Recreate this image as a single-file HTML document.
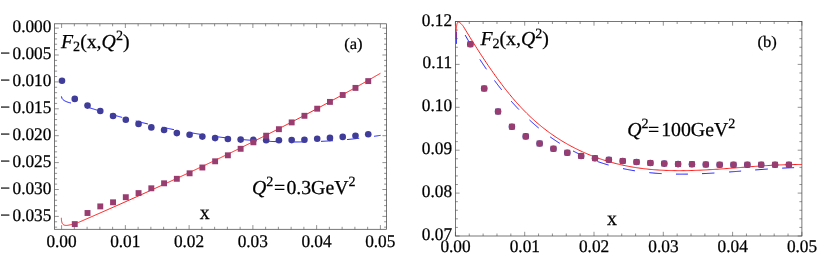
<!DOCTYPE html>
<html><head><meta charset="utf-8"><title>F2 plots</title>
<style>html,body{margin:0;padding:0;background:#fff;}body{width:817px;height:269px;overflow:hidden;font-family:"Liberation Serif",serif;}</style></head>
<body>
<svg width="817" height="269" viewBox="0 0 817 269" style="display:block">
<rect width="817" height="269" fill="#fff"/>
<clipPath id="c1"><rect x="54.6" y="23.8" width="332.0" height="205.5"/></clipPath>
<g clip-path="url(#c1)">
<path d="M61.40,96.40 L62.14,98.64 L62.88,99.52 L63.62,100.14 L64.35,100.63 L65.09,101.04 L65.83,101.40 L66.57,101.72 L67.31,102.00 L68.05,102.25 L68.78,102.47 L69.52,102.67 L70.26,102.84 L71.00,103.00M85.30,106.42 L86.22,106.72 L87.15,107.02 L88.07,107.31 L88.99,107.61 L89.92,107.90 L90.84,108.19 L91.76,108.48 L92.68,108.77 L93.61,109.06 L94.53,109.35 L95.45,109.63 L96.38,109.92 L97.30,110.20M110.20,114.05 L111.12,114.32 L112.05,114.58 L112.97,114.85 L113.89,115.11 L114.82,115.37 L115.74,115.63 L116.66,115.89 L117.58,116.15 L118.51,116.41 L119.43,116.67 L120.35,116.92 L121.28,117.17 L122.20,117.43M135.80,121.01 L136.73,121.25 L137.66,121.48 L138.59,121.71 L139.52,121.95 L140.45,122.18 L141.38,122.41 L142.32,122.63 L143.25,122.86 L144.18,123.09 L145.11,123.31 L146.04,123.53 L146.97,123.76 L147.90,123.98M162.20,127.21 L163.10,127.40 L164.00,127.59 L164.90,127.78 L165.80,127.97 L166.70,128.16 L167.60,128.35 L168.50,128.54 L169.40,128.72 L170.30,128.91 L171.20,129.09 L172.10,129.27 L173.00,129.45 L173.90,129.63M188.30,132.32 L189.22,132.49 L190.15,132.65 L191.07,132.81 L191.99,132.96 L192.92,133.12 L193.84,133.28 L194.76,133.43 L195.68,133.58 L196.61,133.73 L197.53,133.88 L198.45,134.03 L199.38,134.18 L200.30,134.33M214.70,136.43 L215.63,136.56 L216.56,136.68 L217.49,136.80 L218.42,136.92 L219.35,137.04 L220.28,137.16 L221.22,137.28 L222.15,137.39 L223.08,137.51 L224.01,137.62 L224.94,137.73 L225.87,137.84 L226.80,137.95M241.00,139.43 L241.94,139.51 L242.88,139.60 L243.82,139.68 L244.75,139.76 L245.69,139.84 L246.63,139.92 L247.57,140.00 L248.51,140.07 L249.45,140.15 L250.38,140.22 L251.32,140.29 L252.26,140.36 L253.20,140.43M267.50,141.29 L268.44,141.33 L269.38,141.38 L270.32,141.42 L271.25,141.46 L272.19,141.50 L273.13,141.53 L274.07,141.57 L275.01,141.60 L275.95,141.63 L276.88,141.67 L277.82,141.69 L278.76,141.72 L279.70,141.75M294.10,141.96 L295.04,141.96 L295.98,141.96 L296.92,141.96 L297.85,141.95 L298.79,141.95 L299.73,141.94 L300.67,141.93 L301.61,141.92 L302.55,141.91 L303.48,141.90 L304.42,141.89 L305.36,141.87 L306.30,141.85M321.00,141.37 L321.92,141.33 L322.85,141.28 L323.77,141.24 L324.69,141.19 L325.62,141.14 L326.54,141.09 L327.46,141.04 L328.38,140.98 L329.31,140.93 L330.23,140.87 L331.15,140.81 L332.08,140.75 L333.00,140.69M347.10,139.55 L348.03,139.46 L348.96,139.37 L349.89,139.27 L350.82,139.18 L351.75,139.09 L352.68,138.99 L353.62,138.89 L354.55,138.79 L355.48,138.69 L356.41,138.59 L357.34,138.48 L358.27,138.38 L359.20,138.27M374.00,136.33 L374.51,136.26 L375.02,136.18 L375.52,136.11 L376.03,136.03 L376.54,135.96 L377.05,135.88 L377.55,135.80 L378.06,135.72 L378.57,135.65 L379.08,135.57 L379.58,135.49 L380.09,135.41 L380.60,135.35" fill="none" stroke="#0000ff" stroke-width="0.9"/>
<path d="M61.40,217.80 L61.39,218.11 L61.39,218.46 L61.39,218.83 L61.41,219.23 L61.43,219.65 L61.46,220.08 L61.51,220.52 L61.57,220.97 L61.65,221.41 L61.75,221.86 L61.87,222.29 L62.01,222.72 L62.17,223.12 L62.37,223.50 L62.58,223.86 L62.83,224.18 L63.11,224.47 L63.43,224.72 L63.77,224.92 L64.15,225.08 L64.54,225.21 L64.95,225.30 L65.38,225.36 L65.80,225.39 L66.23,225.40 L66.64,225.40 L67.06,225.37 L67.47,225.33 L67.87,225.27 L68.28,225.21 L68.68,225.13 L69.08,225.05 L69.48,224.96 L69.88,224.87 L70.28,224.77 L70.68,224.68 L71.08,224.58 L71.48,224.49 L71.88,224.39 L72.29,224.30 L72.69,224.22 L73.09,224.13 L73.50,224.05 L73.90,223.96 L74.30,223.87 L74.70,223.78 L75.10,223.67 L75.49,223.56 L75.88,223.43 L76.27,223.30 L76.66,223.16 L77.04,223.02 L77.42,222.87 L77.81,222.71 L78.19,222.55 L78.57,222.39 L78.94,222.22 L79.32,222.06 L79.70,221.89 L80.71,221.45 L81.71,221.02 L82.72,220.58 L83.72,220.14 L84.73,219.70 L85.73,219.26 L86.74,218.83 L87.75,218.39 L88.75,217.95 L89.76,217.51 L90.76,217.07 L91.77,216.63 L92.77,216.19 L93.78,215.75 L94.79,215.31 L95.79,214.87 L96.80,214.43 L97.80,213.99 L98.81,213.55 L99.81,213.11 L100.82,212.66 L101.83,212.22 L102.83,211.78 L103.84,211.34 L104.84,210.89 L105.85,210.45 L106.85,210.01 L107.86,209.56 L108.86,209.12 L109.87,208.67 L110.88,208.23 L111.88,207.79 L112.89,207.34 L113.89,206.90 L114.90,206.45 L115.90,206.00 L116.91,205.56 L117.92,205.11 L118.92,204.66 L119.93,204.22 L120.93,203.77 L121.94,203.32 L122.94,202.87 L123.95,202.43 L124.96,201.98 L125.96,201.53 L126.97,201.08 L127.97,200.63 L128.98,200.18 L129.98,199.73 L130.99,199.28 L132.00,198.83 L133.00,198.38 L134.01,197.93 L135.01,197.47 L136.02,197.02 L137.02,196.57 L138.03,196.12 L139.04,195.66 L140.04,195.21 L141.05,194.76 L142.05,194.30 L143.06,193.85 L144.06,193.39 L145.07,192.94 L146.08,192.48 L147.08,192.03 L148.09,191.57 L149.09,191.12 L150.10,190.66 L151.10,190.20 L152.11,189.74 L153.12,189.29 L154.12,188.83 L155.13,188.37 L156.13,187.91 L157.14,187.45 L158.14,186.99 L159.15,186.53 L160.15,186.07 L161.16,185.61 L162.17,185.15 L163.17,184.69 L164.18,184.23 L165.18,183.76 L166.19,183.30 L167.19,182.84 L168.20,182.38 L169.21,181.91 L170.21,181.45 L171.22,180.98 L172.22,180.52 L173.23,180.05 L174.23,179.59 L175.24,179.12 L176.25,178.66 L177.25,178.19 L178.26,177.72 L179.26,177.25 L180.27,176.79 L181.27,176.32 L182.28,175.85 L183.29,175.38 L184.29,174.91 L185.30,174.44 L186.30,173.97 L187.31,173.50 L188.31,173.03 L189.32,172.56 L190.33,172.08 L191.33,171.61 L192.34,171.14 L193.34,170.67 L194.35,170.19 L195.35,169.72 L196.36,169.24 L197.37,168.77 L198.37,168.29 L199.38,167.82 L200.38,167.34 L201.39,166.86 L202.39,166.39 L203.40,165.91 L204.41,165.43 L205.41,164.95 L206.42,164.47 L207.42,163.99 L208.43,163.51 L209.43,163.03 L210.44,162.55 L211.44,162.07 L212.45,161.59 L213.46,161.11 L214.46,160.62 L215.47,160.14 L216.47,159.66 L217.48,159.17 L218.48,158.69 L219.49,158.20 L220.50,157.72 L221.50,157.23 L222.51,156.75 L223.51,156.26 L224.52,155.77 L225.52,155.28 L226.53,154.80 L227.54,154.31 L228.54,153.82 L229.55,153.33 L230.55,152.84 L231.56,152.35 L232.56,151.86 L233.57,151.36 L234.58,150.87 L235.58,150.38 L236.59,149.89 L237.59,149.39 L238.60,148.90 L239.60,148.40 L240.61,147.91 L241.62,147.41 L242.62,146.92 L243.63,146.42 L244.63,145.92 L245.64,145.42 L246.64,144.92 L247.65,144.43 L248.66,143.93 L249.66,143.43 L250.67,142.93 L251.67,142.43 L252.68,141.92 L253.68,141.42 L254.69,140.92 L255.69,140.42 L256.70,139.91 L257.71,139.41 L258.71,138.90 L259.72,138.40 L260.72,137.89 L261.73,137.39 L262.73,136.88 L263.74,136.37 L264.75,135.86 L265.75,135.35 L266.76,134.85 L267.76,134.34 L268.77,133.83 L269.77,133.32 L270.78,132.80 L271.79,132.29 L272.79,131.78 L273.80,131.27 L274.80,130.75 L275.81,130.24 L276.81,129.72 L277.82,129.21 L278.83,128.69 L279.83,128.18 L280.84,127.66 L281.84,127.14 L282.85,126.62 L283.85,126.10 L284.86,125.59 L285.87,125.07 L286.87,124.54 L287.88,124.02 L288.88,123.50 L289.89,122.98 L290.89,122.46 L291.90,121.93 L292.91,121.41 L293.91,120.88 L294.92,120.36 L295.92,119.83 L296.93,119.31 L297.93,118.78 L298.94,118.25 L299.95,117.72 L300.95,117.19 L301.96,116.66 L302.96,116.13 L303.97,115.60 L304.97,115.07 L305.98,114.54 L306.98,114.01 L307.99,113.47 L309.00,112.94 L310.00,112.40 L311.01,111.87 L312.01,111.33 L313.02,110.80 L314.02,110.26 L315.03,109.72 L316.04,109.18 L317.04,108.64 L318.05,108.10 L319.05,107.56 L320.06,107.02 L321.06,106.48 L322.07,105.94 L323.08,105.40 L324.08,104.85 L325.09,104.31 L326.09,103.76 L327.10,103.22 L328.10,102.67 L329.11,102.12 L330.12,101.58 L331.12,101.03 L332.13,100.48 L333.13,99.93 L334.14,99.38 L335.14,98.83 L336.15,98.28 L337.16,97.72 L338.16,97.17 L339.17,96.62 L340.17,96.06 L341.18,95.51 L342.18,94.95 L343.19,94.40 L344.20,93.84 L345.20,93.28 L346.21,92.72 L347.21,92.16 L348.22,91.60 L349.22,91.04 L350.23,90.48 L351.24,89.92 L352.24,89.36 L353.25,88.79 L354.25,88.23 L355.26,87.66 L356.26,87.10 L357.27,86.53 L358.27,85.96 L359.28,85.40 L360.29,84.83 L361.29,84.26 L362.30,83.69 L363.30,83.12 L364.31,82.55 L365.31,81.98 L366.32,81.40 L367.33,80.83 L368.33,80.25 L369.34,79.68 L370.34,79.10 L371.35,78.53 L372.35,77.95 L373.36,77.37 L374.37,76.79 L375.37,76.21 L376.38,75.63 L377.38,75.05 L378.39,74.47 L379.39,73.89 L380.40,73.30" fill="none" stroke="#ff0000" stroke-width="0.9"/>
<circle cx="62.00" cy="80.7" r="3.3" fill="#3f3d99"/>
<circle cx="74.76" cy="98.9" r="3.3" fill="#3f3d99"/>
<circle cx="87.52" cy="105.6" r="3.3" fill="#3f3d99"/>
<circle cx="100.28" cy="111.0" r="3.3" fill="#3f3d99"/>
<circle cx="113.04" cy="116.0" r="3.3" fill="#3f3d99"/>
<circle cx="125.80" cy="119.8" r="3.3" fill="#3f3d99"/>
<circle cx="138.56" cy="123.9" r="3.3" fill="#3f3d99"/>
<circle cx="151.32" cy="127.4" r="3.3" fill="#3f3d99"/>
<circle cx="164.08" cy="130.0" r="3.3" fill="#3f3d99"/>
<circle cx="176.84" cy="133.1" r="3.3" fill="#3f3d99"/>
<circle cx="189.60" cy="134.8" r="3.3" fill="#3f3d99"/>
<circle cx="202.36" cy="136.6" r="3.3" fill="#3f3d99"/>
<circle cx="215.12" cy="138.1" r="3.3" fill="#3f3d99"/>
<circle cx="227.88" cy="139.0" r="3.3" fill="#3f3d99"/>
<circle cx="240.64" cy="139.6" r="3.3" fill="#3f3d99"/>
<circle cx="253.40" cy="139.9" r="3.3" fill="#3f3d99"/>
<circle cx="266.16" cy="140.2" r="3.3" fill="#3f3d99"/>
<circle cx="278.92" cy="140.2" r="3.3" fill="#3f3d99"/>
<circle cx="291.68" cy="140.1" r="3.3" fill="#3f3d99"/>
<circle cx="304.44" cy="139.7" r="3.3" fill="#3f3d99"/>
<circle cx="317.20" cy="138.8" r="3.3" fill="#3f3d99"/>
<circle cx="329.96" cy="137.9" r="3.3" fill="#3f3d99"/>
<circle cx="342.72" cy="136.9" r="3.3" fill="#3f3d99"/>
<circle cx="355.48" cy="135.8" r="3.3" fill="#3f3d99"/>
<circle cx="368.24" cy="134.3" r="3.3" fill="#3f3d99"/>
<rect x="71.81" y="221.15" width="5.9" height="5.9" fill="#993d71"/>
<rect x="84.57" y="210.05" width="5.9" height="5.9" fill="#993d71"/>
<rect x="97.33" y="203.45" width="5.9" height="5.9" fill="#993d71"/>
<rect x="110.09" y="199.35" width="5.9" height="5.9" fill="#993d71"/>
<rect x="122.85" y="194.25" width="5.9" height="5.9" fill="#993d71"/>
<rect x="135.61" y="190.15" width="5.9" height="5.9" fill="#993d71"/>
<rect x="148.37" y="185.35" width="5.9" height="5.9" fill="#993d71"/>
<rect x="161.13" y="180.35" width="5.9" height="5.9" fill="#993d71"/>
<rect x="173.89" y="175.85" width="5.9" height="5.9" fill="#993d71"/>
<rect x="186.65" y="170.35" width="5.9" height="5.9" fill="#993d71"/>
<rect x="199.41" y="164.55" width="5.9" height="5.9" fill="#993d71"/>
<rect x="212.17" y="158.35" width="5.9" height="5.9" fill="#993d71"/>
<rect x="224.93" y="152.35" width="5.9" height="5.9" fill="#993d71"/>
<rect x="237.69" y="145.85" width="5.9" height="5.9" fill="#993d71"/>
<rect x="250.45" y="139.35" width="5.9" height="5.9" fill="#993d71"/>
<rect x="263.21" y="132.75" width="5.9" height="5.9" fill="#993d71"/>
<rect x="275.97" y="126.25" width="5.9" height="5.9" fill="#993d71"/>
<rect x="288.73" y="119.45" width="5.9" height="5.9" fill="#993d71"/>
<rect x="301.49" y="112.85" width="5.9" height="5.9" fill="#993d71"/>
<rect x="314.25" y="105.75" width="5.9" height="5.9" fill="#993d71"/>
<rect x="327.01" y="98.95" width="5.9" height="5.9" fill="#993d71"/>
<rect x="339.77" y="92.05" width="5.9" height="5.9" fill="#993d71"/>
<rect x="352.53" y="84.95" width="5.9" height="5.9" fill="#993d71"/>
<rect x="365.29" y="78.15" width="5.9" height="5.9" fill="#993d71"/>
</g>
<path d="M61.60,229.30v-4.20M61.60,23.80v4.20M74.35,229.30v-2.50M74.35,23.80v2.50M87.10,229.30v-2.50M87.10,23.80v2.50M99.86,229.30v-2.50M99.86,23.80v2.50M112.61,229.30v-2.50M112.61,23.80v2.50M125.36,229.30v-4.20M125.36,23.80v4.20M138.11,229.30v-2.50M138.11,23.80v2.50M150.86,229.30v-2.50M150.86,23.80v2.50M163.62,229.30v-2.50M163.62,23.80v2.50M176.37,229.30v-2.50M176.37,23.80v2.50M189.12,229.30v-4.20M189.12,23.80v4.20M201.87,229.30v-2.50M201.87,23.80v2.50M214.62,229.30v-2.50M214.62,23.80v2.50M227.38,229.30v-2.50M227.38,23.80v2.50M240.13,229.30v-2.50M240.13,23.80v2.50M252.88,229.30v-4.20M252.88,23.80v4.20M265.63,229.30v-2.50M265.63,23.80v2.50M278.38,229.30v-2.50M278.38,23.80v2.50M291.14,229.30v-2.50M291.14,23.80v2.50M303.89,229.30v-2.50M303.89,23.80v2.50M316.64,229.30v-4.20M316.64,23.80v4.20M329.39,229.30v-2.50M329.39,23.80v2.50M342.14,229.30v-2.50M342.14,23.80v2.50M354.90,229.30v-2.50M354.90,23.80v2.50M367.65,229.30v-2.50M367.65,23.80v2.50M380.40,229.30v-4.20M380.40,23.80v4.20M54.60,28.10h4.20M386.60,28.10h-4.20M54.60,33.48h2.50M386.60,33.48h-2.50M54.60,38.86h2.50M386.60,38.86h-2.50M54.60,44.24h2.50M386.60,44.24h-2.50M54.60,49.62h2.50M386.60,49.62h-2.50M54.60,55.00h4.20M386.60,55.00h-4.20M54.60,60.38h2.50M386.60,60.38h-2.50M54.60,65.76h2.50M386.60,65.76h-2.50M54.60,71.14h2.50M386.60,71.14h-2.50M54.60,76.52h2.50M386.60,76.52h-2.50M54.60,81.90h4.20M386.60,81.90h-4.20M54.60,87.28h2.50M386.60,87.28h-2.50M54.60,92.66h2.50M386.60,92.66h-2.50M54.60,98.04h2.50M386.60,98.04h-2.50M54.60,103.42h2.50M386.60,103.42h-2.50M54.60,108.80h4.20M386.60,108.80h-4.20M54.60,114.18h2.50M386.60,114.18h-2.50M54.60,119.56h2.50M386.60,119.56h-2.50M54.60,124.94h2.50M386.60,124.94h-2.50M54.60,130.32h2.50M386.60,130.32h-2.50M54.60,135.70h4.20M386.60,135.70h-4.20M54.60,141.08h2.50M386.60,141.08h-2.50M54.60,146.46h2.50M386.60,146.46h-2.50M54.60,151.84h2.50M386.60,151.84h-2.50M54.60,157.22h2.50M386.60,157.22h-2.50M54.60,162.60h4.20M386.60,162.60h-4.20M54.60,167.98h2.50M386.60,167.98h-2.50M54.60,173.36h2.50M386.60,173.36h-2.50M54.60,178.74h2.50M386.60,178.74h-2.50M54.60,184.12h2.50M386.60,184.12h-2.50M54.60,189.50h4.20M386.60,189.50h-4.20M54.60,194.88h2.50M386.60,194.88h-2.50M54.60,200.26h2.50M386.60,200.26h-2.50M54.60,205.64h2.50M386.60,205.64h-2.50M54.60,211.02h2.50M386.60,211.02h-2.50M54.60,216.40h4.20M386.60,216.40h-4.20M54.60,221.78h2.50M386.60,221.78h-2.50M54.60,227.16h2.50M386.60,227.16h-2.50" fill="none" stroke="#4a4a4a" stroke-width="0.6"/>
<rect x="54.6" y="23.8" width="332.00" height="205.50" fill="none" stroke="#4a4a4a" stroke-width="0.75"/>
<clipPath id="c2"><rect x="455.4" y="21.5" width="346.5" height="214.5"/></clipPath>
<g clip-path="url(#c2)">
<path d="M456.35,43.9 L456.3,31.7M465.20,35.14 L465.74,36.08 L466.28,37.02 L466.82,37.96 L467.35,38.89 L467.89,39.82 L468.43,40.75 L468.97,41.66 L469.51,42.58 L470.05,43.49 L470.58,44.40 L471.12,45.30 L471.66,46.20 L472.20,47.09M479.90,59.42 L480.41,60.20 L480.92,60.98 L481.42,61.75 L481.93,62.52 L482.44,63.29 L482.95,64.06 L483.45,64.82 L483.96,65.57 L484.47,66.33 L484.98,67.08 L485.48,67.82 L485.99,68.57 L486.50,69.31M494.50,80.49 L495.05,81.23 L495.61,81.98 L496.16,82.71 L496.72,83.44 L497.27,84.17 L497.82,84.89 L498.38,85.61 L498.93,86.32 L499.48,87.03 L500.04,87.74 L500.59,88.44 L501.15,89.14 L501.70,89.84M511.10,101.05 L511.70,101.73 L512.30,102.41 L512.90,103.08 L513.50,103.74 L514.10,104.40 L514.70,105.06 L515.30,105.71 L515.90,106.36 L516.50,107.01 L517.10,107.65 L517.70,108.28 L518.30,108.92 L518.90,109.55M529.50,119.97 L530.21,120.62 L530.92,121.27 L531.62,121.91 L532.33,122.55 L533.04,123.18 L533.75,123.80 L534.45,124.42 L535.16,125.04 L535.87,125.65 L536.58,126.25 L537.28,126.85 L537.99,127.44 L538.70,128.03M550.20,136.91 L550.93,137.43 L551.66,137.94 L552.39,138.45 L553.12,138.96 L553.85,139.46 L554.58,139.96 L555.32,140.45 L556.05,140.94 L556.78,141.42 L557.51,141.90 L558.24,142.37 L558.97,142.83 L559.70,143.30M573.00,150.94 L573.83,151.36 L574.66,151.79 L575.49,152.21 L576.32,152.62 L577.15,153.03 L577.98,153.43 L578.82,153.83 L579.65,154.22 L580.48,154.61 L581.31,155.00 L582.14,155.37 L582.97,155.75 L583.80,156.11M597.50,161.51 L598.35,161.80 L599.21,162.10 L600.06,162.38 L600.92,162.67 L601.77,162.94 L602.62,163.22 L603.48,163.49 L604.33,163.76 L605.18,164.02 L606.04,164.28 L606.89,164.53 L607.75,164.78 L608.60,165.03M623.00,168.60 L623.92,168.80 L624.83,168.99 L625.75,169.17 L626.66,169.35 L627.58,169.53 L628.49,169.70 L629.41,169.87 L630.32,170.04 L631.24,170.20 L632.15,170.35 L633.07,170.51 L633.98,170.66 L634.90,170.81M649.30,172.66 L650.25,172.75 L651.19,172.84 L652.14,172.92 L653.08,173.01 L654.03,173.09 L654.98,173.16 L655.92,173.24 L656.87,173.31 L657.82,173.38 L658.76,173.44 L659.71,173.50 L660.65,173.56 L661.60,173.61M676.00,174.11 L676.92,174.12 L677.83,174.13 L678.75,174.14 L679.66,174.14 L680.58,174.15 L681.49,174.15 L682.41,174.14 L683.32,174.14 L684.24,174.13 L685.15,174.13 L686.07,174.12 L686.98,174.11 L687.90,174.09M702.00,173.67 L702.95,173.62 L703.91,173.58 L704.86,173.53 L705.82,173.49 L706.77,173.44 L707.72,173.39 L708.68,173.34 L709.63,173.29 L710.58,173.23 L711.54,173.18 L712.49,173.12 L713.45,173.07 L714.40,173.01M729.10,172.00 L730.02,171.93 L730.95,171.86 L731.87,171.79 L732.79,171.72 L733.72,171.65 L734.64,171.58 L735.56,171.51 L736.48,171.43 L737.41,171.36 L738.33,171.29 L739.25,171.22 L740.18,171.14 L741.10,171.07M755.20,169.96 L756.17,169.88 L757.14,169.81 L758.11,169.74 L759.08,169.66 L760.05,169.59 L761.02,169.52 L761.98,169.45 L762.95,169.37 L763.92,169.30 L764.89,169.23 L765.86,169.17 L766.83,169.10 L767.80,169.03M782.20,168.15 L783.12,168.10 L784.03,168.06 L784.95,168.01 L785.86,167.97 L786.78,167.93 L787.69,167.89 L788.61,167.85 L789.52,167.81 L790.44,167.78 L791.35,167.74 L792.27,167.71 L793.18,167.68 L794.10,167.65" fill="none" stroke="#0000ff" stroke-width="0.9"/>
<path d="M455.90,38.40 L455.92,37.89 L455.94,37.40 L455.96,36.93 L455.97,36.47 L455.98,36.03 L455.99,35.61 L456.00,35.20 L456.01,34.80 L456.02,34.40 L456.02,34.02 L456.03,33.65 L456.04,33.29 L456.04,32.93 L456.05,32.57 L456.06,32.22 L456.07,31.87 L456.08,31.52 L456.10,31.17 L456.11,30.82 L456.13,30.47 L456.16,30.12 L456.18,29.75 L456.21,29.39 L456.25,29.01 L456.28,28.63 L456.33,28.24 L456.37,27.83 L456.43,27.42 L456.49,26.99 L456.55,26.54 L456.62,26.08 L456.70,25.61 L456.78,25.11 L456.88,24.61 L456.99,24.12 L457.11,23.65 L457.25,23.22 L457.42,22.83 L457.60,22.50 L457.82,22.24 L458.07,22.07 L458.35,22.00 L458.66,22.03 L459.00,22.15 L459.36,22.34 L459.73,22.58 L460.09,22.87 L460.45,23.17 L460.79,23.48 L461.12,23.78 L461.42,24.08 L461.71,24.37 L461.98,24.67 L462.24,24.96 L462.49,25.26 L462.73,25.56 L462.96,25.86 L463.18,26.17 L463.40,26.48 L464.53,28.36 L465.66,30.23 L466.80,32.10 L467.93,33.95 L469.06,35.80 L470.19,37.63 L471.32,39.46 L472.45,41.28 L473.59,43.09 L474.72,44.89 L475.85,46.68 L476.98,48.46 L478.11,50.22 L479.24,51.98 L480.38,53.73 L481.51,55.47 L482.64,57.19 L483.77,58.90 L484.90,60.61 L486.04,62.30 L487.17,63.97 L488.30,65.64 L489.43,67.29 L490.56,68.93 L491.69,70.56 L492.83,72.17 L493.96,73.77 L495.09,75.35 L496.22,76.93 L497.35,78.48 L498.48,80.03 L499.62,81.56 L500.75,83.07 L501.88,84.57 L503.01,86.05 L504.14,87.52 L505.28,88.97 L506.41,90.41 L507.54,91.83 L508.67,93.23 L509.80,94.62 L510.93,95.99 L512.07,97.34 L513.20,98.68 L514.33,100.00 L515.46,101.30 L516.59,102.58 L517.73,103.85 L518.86,105.09 L519.99,106.32 L521.12,107.53 L522.25,108.73 L523.38,109.90 L524.52,111.06 L525.65,112.20 L526.78,113.33 L527.91,114.44 L529.04,115.53 L530.17,116.61 L531.31,117.67 L532.44,118.71 L533.57,119.74 L534.70,120.75 L535.83,121.75 L536.97,122.73 L538.10,123.70 L539.23,124.65 L540.36,125.59 L541.49,126.52 L542.62,127.43 L543.76,128.32 L544.89,129.21 L546.02,130.07 L547.15,130.93 L548.28,131.77 L549.41,132.60 L550.55,133.41 L551.68,134.22 L552.81,135.01 L553.94,135.78 L555.07,136.55 L556.21,137.30 L557.34,138.05 L558.47,138.78 L559.60,139.49 L560.73,140.20 L561.86,140.90 L563.00,141.58 L564.13,142.26 L565.26,142.92 L566.39,143.57 L567.52,144.22 L568.65,144.85 L569.79,145.47 L570.92,146.09 L572.05,146.69 L573.18,147.28 L574.31,147.87 L575.45,148.45 L576.58,149.01 L577.71,149.57 L578.84,150.12 L579.97,150.66 L581.10,151.19 L582.24,151.71 L583.37,152.23 L584.50,152.73 L585.63,153.23 L586.76,153.72 L587.89,154.20 L589.03,154.67 L590.16,155.13 L591.29,155.59 L592.42,156.03 L593.55,156.47 L594.69,156.90 L595.82,157.32 L596.95,157.74 L598.08,158.14 L599.21,158.54 L600.34,158.93 L601.48,159.31 L602.61,159.69 L603.74,160.06 L604.87,160.42 L606.00,160.77 L607.14,161.11 L608.27,161.45 L609.40,161.78 L610.53,162.10 L611.66,162.42 L612.79,162.73 L613.93,163.03 L615.06,163.33 L616.19,163.61 L617.32,163.90 L618.45,164.17 L619.58,164.44 L620.72,164.70 L621.85,164.95 L622.98,165.20 L624.11,165.44 L625.24,165.68 L626.38,165.91 L627.51,166.13 L628.64,166.35 L629.77,166.56 L630.90,166.76 L632.03,166.96 L633.17,167.15 L634.30,167.34 L635.43,167.52 L636.56,167.69 L637.69,167.86 L638.82,168.02 L639.96,168.18 L641.09,168.33 L642.22,168.48 L643.35,168.62 L644.48,168.76 L645.62,168.89 L646.75,169.01 L647.88,169.13 L649.01,169.25 L650.14,169.36 L651.27,169.46 L652.41,169.56 L653.54,169.66 L654.67,169.75 L655.80,169.84 L656.93,169.92 L658.06,169.99 L659.20,170.07 L660.33,170.13 L661.46,170.20 L662.59,170.26 L663.72,170.31 L664.86,170.36 L665.99,170.41 L667.12,170.45 L668.25,170.49 L669.38,170.52 L670.51,170.55 L671.65,170.58 L672.78,170.60 L673.91,170.62 L675.04,170.64 L676.17,170.65 L677.31,170.66 L678.44,170.66 L679.57,170.67 L680.70,170.66 L681.83,170.66 L682.96,170.65 L684.10,170.64 L685.23,170.63 L686.36,170.61 L687.49,170.59 L688.62,170.57 L689.75,170.54 L690.89,170.51 L692.02,170.48 L693.15,170.45 L694.28,170.41 L695.41,170.37 L696.55,170.33 L697.68,170.29 L698.81,170.24 L699.94,170.19 L701.07,170.14 L702.20,170.09 L703.34,170.03 L704.47,169.98 L705.60,169.92 L706.73,169.86 L707.86,169.79 L708.99,169.73 L710.13,169.66 L711.26,169.60 L712.39,169.53 L713.52,169.46 L714.65,169.39 L715.79,169.31 L716.92,169.24 L718.05,169.16 L719.18,169.08 L720.31,169.01 L721.44,168.93 L722.58,168.85 L723.71,168.77 L724.84,168.68 L725.97,168.60 L727.10,168.52 L728.23,168.43 L729.37,168.35 L730.50,168.26 L731.63,168.18 L732.76,168.09 L733.89,168.00 L735.03,167.92 L736.16,167.83 L737.29,167.74 L738.42,167.65 L739.55,167.57 L740.68,167.48 L741.82,167.39 L742.95,167.30 L744.08,167.22 L745.21,167.13 L746.34,167.04 L747.47,166.96 L748.61,166.87 L749.74,166.79 L750.87,166.70 L752.00,166.62 L753.13,166.53 L754.27,166.45 L755.40,166.37 L756.53,166.29 L757.66,166.21 L758.79,166.13 L759.92,166.05 L761.06,165.98 L762.19,165.90 L763.32,165.83 L764.45,165.75 L765.58,165.68 L766.72,165.61 L767.85,165.54 L768.98,165.48 L770.11,165.41 L771.24,165.35 L772.37,165.29 L773.51,165.23 L774.64,165.17 L775.77,165.11 L776.90,165.06 L778.03,165.01 L779.16,164.96 L780.30,164.91 L781.43,164.86 L782.56,164.82 L783.69,164.78 L784.82,164.74 L785.96,164.70 L787.09,164.67 L788.22,164.64 L789.35,164.61 L790.48,164.59 L791.61,164.57 L792.75,164.55 L793.88,164.53 L795.01,164.52 L796.14,164.51 L797.27,164.50 L798.40,164.50 L799.54,164.50 L800.67,164.50 L801.80,164.51" fill="none" stroke="#ff0000" stroke-width="0.9"/>
<circle cx="470.35" cy="44.199999999999996" r="3.3" fill="#3f3d99"/>
<rect x="467.40" y="41.25" width="5.9" height="5.9" fill="#993d71"/>
<circle cx="484.20" cy="88.5" r="3.3" fill="#3f3d99"/>
<rect x="481.25" y="85.55" width="5.9" height="5.9" fill="#993d71"/>
<circle cx="498.05" cy="111.5" r="3.3" fill="#3f3d99"/>
<rect x="495.10" y="108.55" width="5.9" height="5.9" fill="#993d71"/>
<circle cx="511.90" cy="126.7" r="3.3" fill="#3f3d99"/>
<rect x="508.95" y="123.75" width="5.9" height="5.9" fill="#993d71"/>
<circle cx="525.75" cy="136.4" r="3.3" fill="#3f3d99"/>
<rect x="522.80" y="133.45" width="5.9" height="5.9" fill="#993d71"/>
<circle cx="539.60" cy="143.5" r="3.3" fill="#3f3d99"/>
<rect x="536.65" y="140.55" width="5.9" height="5.9" fill="#993d71"/>
<circle cx="553.45" cy="148.70000000000002" r="3.3" fill="#3f3d99"/>
<rect x="550.50" y="145.75" width="5.9" height="5.9" fill="#993d71"/>
<circle cx="567.30" cy="152.70000000000002" r="3.3" fill="#3f3d99"/>
<rect x="564.35" y="149.75" width="5.9" height="5.9" fill="#993d71"/>
<circle cx="581.15" cy="156.0" r="3.3" fill="#3f3d99"/>
<rect x="578.20" y="153.05" width="5.9" height="5.9" fill="#993d71"/>
<circle cx="595.00" cy="158.20000000000002" r="3.3" fill="#3f3d99"/>
<rect x="592.05" y="155.25" width="5.9" height="5.9" fill="#993d71"/>
<circle cx="608.85" cy="159.8" r="3.3" fill="#3f3d99"/>
<rect x="605.90" y="156.85" width="5.9" height="5.9" fill="#993d71"/>
<circle cx="622.70" cy="161.0" r="3.3" fill="#3f3d99"/>
<rect x="619.75" y="158.05" width="5.9" height="5.9" fill="#993d71"/>
<circle cx="636.55" cy="162.0" r="3.3" fill="#3f3d99"/>
<rect x="633.60" y="159.05" width="5.9" height="5.9" fill="#993d71"/>
<circle cx="650.40" cy="163.0" r="3.3" fill="#3f3d99"/>
<rect x="647.45" y="160.05" width="5.9" height="5.9" fill="#993d71"/>
<circle cx="664.25" cy="163.60000000000002" r="3.3" fill="#3f3d99"/>
<rect x="661.30" y="160.65" width="5.9" height="5.9" fill="#993d71"/>
<circle cx="678.10" cy="164.10000000000002" r="3.3" fill="#3f3d99"/>
<rect x="675.15" y="161.15" width="5.9" height="5.9" fill="#993d71"/>
<circle cx="691.95" cy="164.20000000000002" r="3.3" fill="#3f3d99"/>
<rect x="689.00" y="161.25" width="5.9" height="5.9" fill="#993d71"/>
<circle cx="705.80" cy="164.5" r="3.3" fill="#3f3d99"/>
<rect x="702.85" y="161.55" width="5.9" height="5.9" fill="#993d71"/>
<circle cx="719.65" cy="164.70000000000002" r="3.3" fill="#3f3d99"/>
<rect x="716.70" y="161.75" width="5.9" height="5.9" fill="#993d71"/>
<circle cx="733.50" cy="164.70000000000002" r="3.3" fill="#3f3d99"/>
<rect x="730.55" y="161.75" width="5.9" height="5.9" fill="#993d71"/>
<circle cx="747.35" cy="164.70000000000002" r="3.3" fill="#3f3d99"/>
<rect x="744.40" y="161.75" width="5.9" height="5.9" fill="#993d71"/>
<circle cx="761.20" cy="164.70000000000002" r="3.3" fill="#3f3d99"/>
<rect x="758.25" y="161.75" width="5.9" height="5.9" fill="#993d71"/>
<circle cx="775.05" cy="164.70000000000002" r="3.3" fill="#3f3d99"/>
<rect x="772.10" y="161.75" width="5.9" height="5.9" fill="#993d71"/>
<circle cx="788.90" cy="164.70000000000002" r="3.3" fill="#3f3d99"/>
<rect x="785.95" y="161.75" width="5.9" height="5.9" fill="#993d71"/>
</g>
<path d="M455.40,236.00v-4.20M455.40,21.50v4.20M469.26,236.00v-2.50M469.26,21.50v2.50M483.12,236.00v-2.50M483.12,21.50v2.50M496.98,236.00v-2.50M496.98,21.50v2.50M510.84,236.00v-2.50M510.84,21.50v2.50M524.70,236.00v-4.20M524.70,21.50v4.20M538.56,236.00v-2.50M538.56,21.50v2.50M552.42,236.00v-2.50M552.42,21.50v2.50M566.28,236.00v-2.50M566.28,21.50v2.50M580.14,236.00v-2.50M580.14,21.50v2.50M594.00,236.00v-4.20M594.00,21.50v4.20M607.86,236.00v-2.50M607.86,21.50v2.50M621.72,236.00v-2.50M621.72,21.50v2.50M635.58,236.00v-2.50M635.58,21.50v2.50M649.44,236.00v-2.50M649.44,21.50v2.50M663.30,236.00v-4.20M663.30,21.50v4.20M677.16,236.00v-2.50M677.16,21.50v2.50M691.02,236.00v-2.50M691.02,21.50v2.50M704.88,236.00v-2.50M704.88,21.50v2.50M718.74,236.00v-2.50M718.74,21.50v2.50M732.60,236.00v-4.20M732.60,21.50v4.20M746.46,236.00v-2.50M746.46,21.50v2.50M760.32,236.00v-2.50M760.32,21.50v2.50M774.18,236.00v-2.50M774.18,21.50v2.50M788.04,236.00v-2.50M788.04,21.50v2.50M801.90,236.00v-4.20M801.90,21.50v4.20M455.40,21.50h4.20M801.90,21.50h-4.20M455.40,30.08h2.50M801.90,30.08h-2.50M455.40,38.66h2.50M801.90,38.66h-2.50M455.40,47.24h2.50M801.90,47.24h-2.50M455.40,55.82h2.50M801.90,55.82h-2.50M455.40,64.40h4.20M801.90,64.40h-4.20M455.40,72.98h2.50M801.90,72.98h-2.50M455.40,81.56h2.50M801.90,81.56h-2.50M455.40,90.14h2.50M801.90,90.14h-2.50M455.40,98.72h2.50M801.90,98.72h-2.50M455.40,107.30h4.20M801.90,107.30h-4.20M455.40,115.88h2.50M801.90,115.88h-2.50M455.40,124.46h2.50M801.90,124.46h-2.50M455.40,133.04h2.50M801.90,133.04h-2.50M455.40,141.62h2.50M801.90,141.62h-2.50M455.40,150.20h4.20M801.90,150.20h-4.20M455.40,158.78h2.50M801.90,158.78h-2.50M455.40,167.36h2.50M801.90,167.36h-2.50M455.40,175.94h2.50M801.90,175.94h-2.50M455.40,184.52h2.50M801.90,184.52h-2.50M455.40,193.10h4.20M801.90,193.10h-4.20M455.40,201.68h2.50M801.90,201.68h-2.50M455.40,210.26h2.50M801.90,210.26h-2.50M455.40,218.84h2.50M801.90,218.84h-2.50M455.40,227.42h2.50M801.90,227.42h-2.50M455.40,236.00h4.20M801.90,236.00h-4.20" fill="none" stroke="#4a4a4a" stroke-width="0.6"/>
<rect x="455.4" y="21.5" width="346.50" height="214.50" fill="none" stroke="#4a4a4a" stroke-width="0.75"/>
<filter id="id" x="0" y="0" width="817" height="269" filterUnits="userSpaceOnUse" color-interpolation-filters="sRGB"><feColorMatrix type="matrix" values="1 0 0 0 0 0 1 0 0 0 0 0 1 0 0 0 0 0 1 0"/></filter>
<g font-family="'Liberation Serif', serif" fill="#000" stroke="#000" stroke-width="0.25" text-rendering="geometricPrecision" filter="url(#id)">
<text transform="translate(51.4,32.300000000000004) scale(1,1.03)" font-size="17.3" text-anchor="end" >0.000</text>
<text transform="translate(51.4,59.2) scale(1,1.03)" font-size="17.3" text-anchor="end" >−<tspan dx="2.5">0.005</tspan></text>
<text transform="translate(51.4,86.10000000000001) scale(1,1.03)" font-size="17.3" text-anchor="end" >−<tspan dx="2.5">0.010</tspan></text>
<text transform="translate(51.4,112.99999999999999) scale(1,1.03)" font-size="17.3" text-anchor="end" >−<tspan dx="2.5">0.015</tspan></text>
<text transform="translate(51.4,139.89999999999998) scale(1,1.03)" font-size="17.3" text-anchor="end" >−<tspan dx="2.5">0.020</tspan></text>
<text transform="translate(51.4,166.79999999999998) scale(1,1.03)" font-size="17.3" text-anchor="end" >−<tspan dx="2.5">0.025</tspan></text>
<text transform="translate(51.4,193.69999999999996) scale(1,1.03)" font-size="17.3" text-anchor="end" >−<tspan dx="2.5">0.030</tspan></text>
<text transform="translate(51.4,220.99999999999997) scale(1,1.03)" font-size="17.3" text-anchor="end" >−<tspan dx="2.5">0.035</tspan></text>
<text transform="translate(61.5,246.6) scale(1,1.03)" font-size="17.3" text-anchor="middle" >0.00</text>
<text transform="translate(125.25,246.6) scale(1,1.03)" font-size="17.3" text-anchor="middle" >0.01</text>
<text transform="translate(189.0,246.6) scale(1,1.03)" font-size="17.3" text-anchor="middle" >0.02</text>
<text transform="translate(252.75,246.6) scale(1,1.03)" font-size="17.3" text-anchor="middle" >0.03</text>
<text transform="translate(316.5,246.6) scale(1,1.03)" font-size="17.3" text-anchor="middle" >0.04</text>
<text transform="translate(380.25,246.6) scale(1,1.03)" font-size="17.3" text-anchor="middle" >0.05</text>
<text transform="translate(452.1,25.5) scale(1,1.03)" font-size="17.3" text-anchor="end" >0.12</text>
<text transform="translate(452.1,68.4) scale(1,1.03)" font-size="17.3" text-anchor="end" >0.11</text>
<text transform="translate(452.1,111.3) scale(1,1.03)" font-size="17.3" text-anchor="end" >0.10</text>
<text transform="translate(452.1,154.2) scale(1,1.03)" font-size="17.3" text-anchor="end" >0.09</text>
<text transform="translate(452.1,197.1) scale(1,1.03)" font-size="17.3" text-anchor="end" >0.08</text>
<text transform="translate(452.1,240.0) scale(1,1.03)" font-size="17.3" text-anchor="end" >0.07</text>
<text transform="translate(455.5,252.4) scale(1,1.03)" font-size="17.3" text-anchor="middle" >0.00</text>
<text transform="translate(524.8,252.4) scale(1,1.03)" font-size="17.3" text-anchor="middle" >0.01</text>
<text transform="translate(594.1,252.4) scale(1,1.03)" font-size="17.3" text-anchor="middle" >0.02</text>
<text transform="translate(663.4,252.4) scale(1,1.03)" font-size="17.3" text-anchor="middle" >0.03</text>
<text transform="translate(732.7,252.4) scale(1,1.03)" font-size="17.3" text-anchor="middle" >0.04</text>
<text transform="translate(802.0,252.4) scale(1,1.03)" font-size="17.3" text-anchor="middle" >0.05</text>
<text x="61" y="47.6" font-size="19.8"><tspan font-style="italic">F</tspan><tspan font-size="14.1" dy="3.7">2</tspan><tspan dy="-3.7">(x,</tspan><tspan font-style="italic">Q</tspan><tspan font-size="14.1" dy="-7.7">2</tspan><tspan dy="7.7">)</tspan></text>
<text x="480.4" y="44.6" font-size="19.8"><tspan font-style="italic">F</tspan><tspan font-size="14.1" dy="3.7">2</tspan><tspan dy="-3.7">(x,</tspan><tspan font-style="italic">Q</tspan><tspan font-size="14.1" dy="-6.7">2</tspan><tspan dy="6.7">)</tspan></text>
<text transform="translate(344.2,48.8) scale(1,0.97)" font-size="16.6" text-anchor="start" >(a)</text>
<text transform="translate(757.5,46.6) scale(1,0.97)" font-size="16.6" text-anchor="start" >(b)</text>
<text x="251.9" y="194" font-size="19.8"><tspan font-style="italic">Q</tspan><tspan font-size="14.1" dy="-7.7">2</tspan><tspan dy="7.7" dx="0.8">=</tspan><tspan dx="1.2">0.3GeV</tspan><tspan font-size="14.1" dy="-7.7">2</tspan></text>
<text x="627.3" y="135.5" font-size="19.8"><tspan font-style="italic">Q</tspan><tspan font-size="14.1" dy="-7.7">2</tspan><tspan dy="7.7" dx="-0.6">=</tspan><tspan dx="2.0">100GeV</tspan><tspan font-size="14.1" dy="-7.7">2</tspan></text>
<text transform="translate(199.7,218.6) scale(1,1.03)" font-size="19.8" text-anchor="start" >x</text>
<text transform="translate(607.0,224.5) scale(1,1.03)" font-size="19.8" text-anchor="start" >x</text>
</g>
</svg>
</body></html>
